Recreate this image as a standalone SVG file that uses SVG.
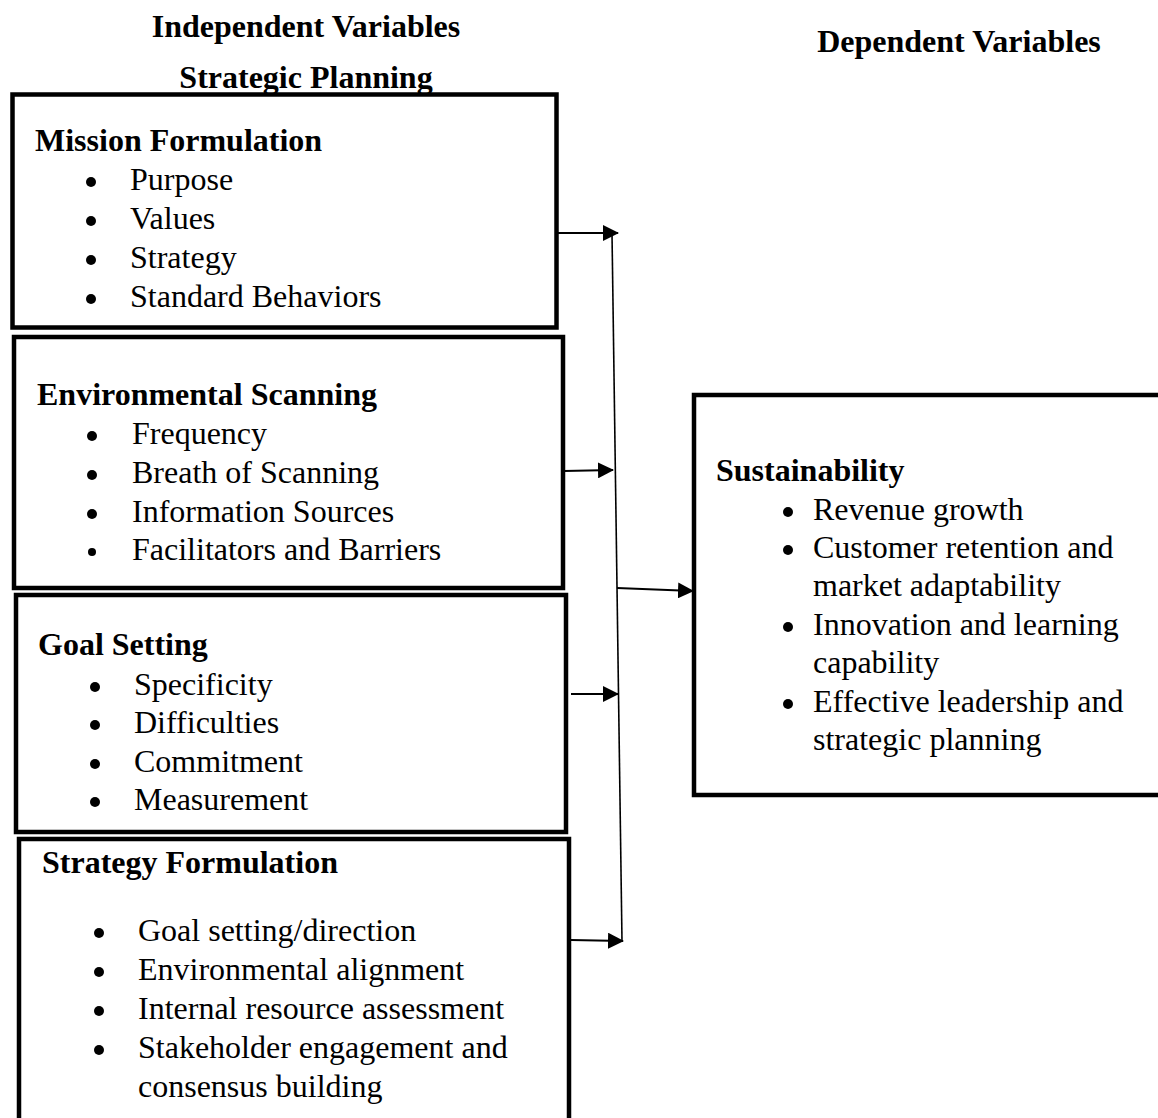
<svg xmlns="http://www.w3.org/2000/svg" width="1158" height="1118" viewBox="0 0 1158 1118">
<style>
text{font-family:"Liberation Serif","Times New Roman",serif;font-size:32px;fill:#000}
.b{font-weight:bold}
.box{fill:none;stroke:#000;stroke-width:4.5}
.ln{stroke:#000;stroke-width:2.2;fill:none}
.dot{fill:#000}
</style>
<defs>
<marker id="ah" markerUnits="userSpaceOnUse" markerWidth="16" markerHeight="16" refX="15" refY="8" orient="auto">
<path d="M0,0 L16,8 L0,16 z" fill="#000"/>
</marker>
</defs>
<rect width="1158" height="1118" fill="#fff"/>
<g id="titles">
<text class="b" x="306" y="37" text-anchor="middle">Independent Variables</text>
<text class="b" x="959" y="52" text-anchor="middle">Dependent Variables</text>
<text class="b" x="306" y="88" text-anchor="middle">Strategic Planning</text>
</g>
<g id="mission">
<rect class="box" x="12.5" y="94.5" width="544" height="233"/>
<text class="b" x="35" y="151">Mission Formulation</text>
<circle class="dot" cx="91" cy="182" r="5"/><text x="130" y="190">Purpose</text>
<circle class="dot" cx="91" cy="221" r="5"/><text x="130" y="229">Values</text>
<circle class="dot" cx="91" cy="260" r="5"/><text x="130" y="268">Strategy</text>
<circle class="dot" cx="91" cy="299" r="5"/><text x="130" y="307">Standard Behaviors</text>
</g>
<g id="environmental">
<rect class="box" x="14" y="337" width="549" height="251"/>
<text class="b" x="37" y="405">Environmental Scanning</text>
<circle class="dot" cx="92" cy="436" r="5"/><text x="132" y="444">Frequency</text>
<circle class="dot" cx="92" cy="475" r="5"/><text x="132" y="483">Breath of Scanning</text>
<circle class="dot" cx="92" cy="514" r="5"/><text x="132" y="522">Information Sources</text>
<circle class="dot" cx="92" cy="552" r="4"/><text x="132" y="560">Facilitators and Barriers</text>
</g>
<g id="goal">
<rect class="box" x="16" y="595" width="550" height="237"/>
<text class="b" x="38" y="655">Goal Setting</text>
<circle class="dot" cx="95" cy="687" r="5"/><text x="134" y="695">Specificity</text>
<circle class="dot" cx="95" cy="725" r="5"/><text x="134" y="733">Difficulties</text>
<circle class="dot" cx="95" cy="764" r="5"/><text x="134" y="772">Commitment</text>
<circle class="dot" cx="95" cy="802" r="5"/><text x="134" y="810">Measurement</text>
</g>
<g id="strategy">
<rect class="box" x="19" y="839" width="550" height="285"/>
<text class="b" x="42" y="873">Strategy Formulation</text>
<circle class="dot" cx="99" cy="933" r="5"/><text x="138" y="941">Goal setting/direction</text>
<circle class="dot" cx="99" cy="972" r="5"/><text x="138" y="980">Environmental alignment</text>
<circle class="dot" cx="99" cy="1011" r="5"/><text x="138" y="1019">Internal resource assessment</text>
<circle class="dot" cx="99" cy="1050" r="5"/><text x="138" y="1058">Stakeholder engagement and</text>
<text x="138" y="1097">consensus building</text>
</g>
<g id="sustainability">
<rect class="box" x="694" y="395" width="480" height="400"/>
<text class="b" x="716" y="481">Sustainability</text>
<circle class="dot" cx="788" cy="512" r="5"/><text x="813" y="520">Revenue growth</text>
<circle class="dot" cx="788" cy="550" r="5"/><text x="813" y="558">Customer retention and</text>
<text x="813" y="596">market adaptability</text>
<circle class="dot" cx="788" cy="627" r="5"/><text x="813" y="635">Innovation and learning</text>
<text x="813" y="673">capability</text>
<circle class="dot" cx="788" cy="704" r="5"/><text x="813" y="712">Effective leadership and</text>
<text x="813" y="750">strategic planning</text>
</g>
<g id="connectors">
<line class="ln" x1="612" y1="233" x2="622" y2="941" style="stroke-width:1.6"/>
<line class="ln" x1="557" y1="233" x2="618" y2="233" marker-end="url(#ah)"/>
<line class="ln" x1="564" y1="471" x2="613" y2="470" marker-end="url(#ah)"/>
<line class="ln" x1="571" y1="694" x2="618" y2="694" marker-end="url(#ah)"/>
<line class="ln" x1="571" y1="940" x2="623" y2="941" marker-end="url(#ah)"/>
<line class="ln" x1="617" y1="588" x2="693" y2="591" marker-end="url(#ah)"/>
</g>
</svg>
